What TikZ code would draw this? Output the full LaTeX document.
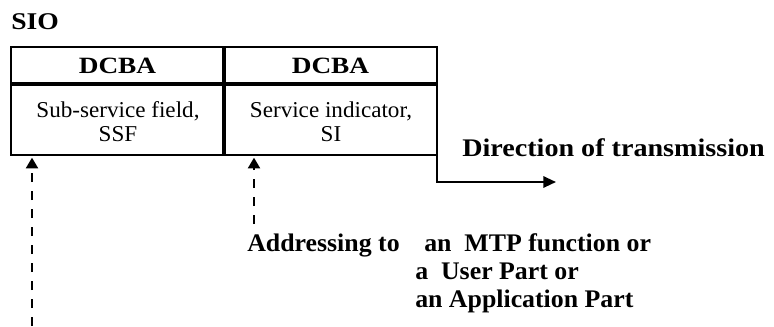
\documentclass[tikz,border=0pt]{standalone}
\usepackage{fontspec}
\setmainfont{Liberation Serif}
% Serif faces with slightly different widths for the various labels
\newfontfamily\headface[FakeStretch=1.17]{Liberation Serif}
\newfontfamily\titleface[FakeStretch=1.15]{Liberation Serif}
\newfontfamily\cellface[FakeStretch=1.02]{Liberation Serif}
\newfontfamily\dirface[FakeStretch=1.11]{Liberation Serif}
\newfontfamily\noteface[FakeStretch=1.02]{Liberation Serif}
\usetikzlibrary{arrows.meta}

\tikzset{
  cellbox/.style={minimum width=159.75pt, inner sep=0pt, outer sep=0pt},
  headcell/.style={cellbox, minimum height=27.75pt,
    font=\headface\bfseries\fontsize{17.5}{19}\selectfont},
  bodycell/.style={cellbox, minimum height=53.25pt},
  celltext/.style={inner sep=0pt, align=center,
    font=\cellface\fontsize{17}{18}\selectfont},
  frame/.style={line width=1.6pt},
  divider/.style={line width=2.3pt},
  pointer/.style={line width=1.5pt, dash pattern=on 7pt off 6.5pt,
    -{Triangle[length=8pt,width=9pt]}},
  flow/.style={line width=1.5pt, -{Triangle[length=9.5pt,width=8.5pt]}},
  boldnote/.style={inner sep=0pt, font=\noteface\bfseries\fontsize{19}{21.75}\selectfont},
}

\begin{document}
\begin{tikzpicture}[x=0.75pt, y=-0.75pt]
  \useasboundingbox (0,0) rectangle (774,326);

  % Title
  \node[anchor=base west, inner sep=0pt,
        font=\titleface\bfseries\fontsize{18}{20}\selectfont] (sio) at (11,29) {SIO};

  % Octet cells
  \node[headcell] (h1) at (117.5,65.5) {DCBA};
  \node[headcell] (h2) at (330.5,65.5) {DCBA};
  \node[bodycell] (b1) at (117.5,119.5) {};
  \node[bodycell] (b2) at (330.5,119.5) {};
  \node[celltext] (ssf) at (118,122) {Sub-service field,\\SSF};
  \node[celltext] (si)  at (331,122) {Service indicator,\\SI};

  \draw[frame] (h1.north west) rectangle (b2.south east);
  \draw[divider] (h1.south west) -- (h2.south east);
  \draw[divider] (h1.north east) -- (b1.south east);

  % Direction of transmission
  \coordinate (dirend) at (556,182);
  \draw[flow] (b2.east) |- (dirend);
  \node[anchor=west, inner sep=0pt,
        font=\dirface\bfseries\fontsize{19}{21}\selectfont] (dir) at (462,148)
        {Direction of transmission};

  % Pointers to the fields
  \coordinate (p1) at (32,326);
  \coordinate (p2) at (254,224);
  \draw[pointer, shorten >=2pt] (p1) -- (p1 |- b1.south);
  \draw[pointer, shorten >=2pt] (p2) -- (p2 |- b2.south);

  % Meaning of the service indicator
  \node[boldnote, anchor=base west] (addr) at (247,251) {Addressing to};
  \node[boldnote, anchor=base west] (t1) at (424,251) {an\ \ MTP function or};
  \node[boldnote, anchor=base west] (t2) at (415,279) {a\ \ User Part or};
  \node[boldnote, anchor=base west] (t3) at (415,307) {an Application Part};
\end{tikzpicture}
\end{document}
